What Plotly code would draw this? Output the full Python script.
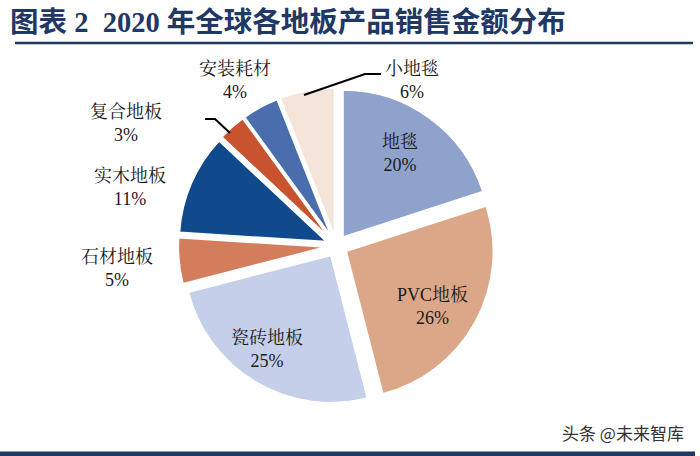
import plotly.graph_objects as go

# ---- data ----
labels = ["地毯", "PVC地板", "瓷砖地板", "石材地板", "实木地板", "复合地板", "安装耗材", "小地毯"]
values = [20, 26, 25, 5, 11, 3, 4, 6]
colors = ["#8ea2cc", "#dca788", "#c5cfe9", "#d47d5c", "#114a8c", "#c9532e", "#4a6ead", "#f5e4da"]
title_text = "图表 2  2020 年全球各地板产品销售金额分布"
watermark = "头条 @未来智库"

# label positions in pixels (centre of text block)
label_pos = {
    "地毯": (400, 153),
    "PVC地板": (432, 306),
    "瓷砖地板": (267, 349),
    "石材地板": (117, 268),
    "实木地板": (130, 187),
    "复合地板": (126, 124),
    "安装耗材": (235, 80),
    "小地毯": (412, 80),
}

W, H = 700, 456
px = lambda x: x / W
py = lambda y: 1 - y / H

cx, cy, R, pull = 336.5, 246, 147, 0.076
half = R * (1 + pull)

fig = go.Figure(go.Pie(
    labels=labels, values=values, sort=False, direction="clockwise", rotation=0,
    marker=dict(colors=colors, line=dict(color="white", width=1.5)),
    pull=[pull] * len(values), textinfo="none", hoverinfo="label+percent",
    domain=dict(x=[px(cx - half), px(cx + half)], y=[py(cy + half), py(cy - half)]),
    showlegend=False,
))

lab_font = dict(family="Liberation Serif, Noto Serif CJK SC, Noto Sans CJK SC", size=18, color="#1a1a1a")
annotations = []
for lab, v in zip(labels, values):
    x, y = label_pos[lab]
    annotations.append(dict(x=px(x), y=py(y), xref="paper", yref="paper", showarrow=False,
                            text=f"{lab}<br>{v}%", font=lab_font, align="center",
                            xanchor="center", yanchor="middle"))

annotations.append(dict(x=px(8), y=py(22), xref="paper", yref="paper", showarrow=False,
                        text=f"<b>{title_text}</b>", xanchor="left", yanchor="middle",
                        font=dict(family="Liberation Serif, Noto Sans CJK SC", size=28.5, color="#1f3864")))
annotations.append(dict(x=px(686), y=py(432), xref="paper", yref="paper", showarrow=False,
                        text=watermark, xanchor="right", yanchor="middle",
                        font=dict(family="Noto Sans CJK SC", size=17, color="#333333")))

def path(pts):
    return "M " + " L ".join(f"{px(x)},{py(y)}" for x, y in pts)

shapes = [
    dict(type="line", xref="paper", yref="paper", x0=px(15), x1=px(693), y0=py(43), y1=py(43),
         line=dict(color="#1f3864", width=2.5)),
    dict(type="rect", xref="paper", yref="paper", x0=px(0), x1=px(695), y0=py(456), y1=py(451.5),
         line=dict(width=0), fillcolor="#1f3864"),
    dict(type="path", xref="paper", yref="paper", path=path([(304, 95), (365, 74), (381, 74)]),
         line=dict(color="black", width=2)),
    dict(type="path", xref="paper", yref="paper", path=path([(205, 119), (215, 119), (230, 133)]),
         line=dict(color="black", width=2)),
]

fig.update_layout(width=W, height=H, margin=dict(l=0, r=0, t=0, b=0),
                  paper_bgcolor="white", plot_bgcolor="white",
                  annotations=annotations, shapes=shapes)
fig.write_html("out.html")
